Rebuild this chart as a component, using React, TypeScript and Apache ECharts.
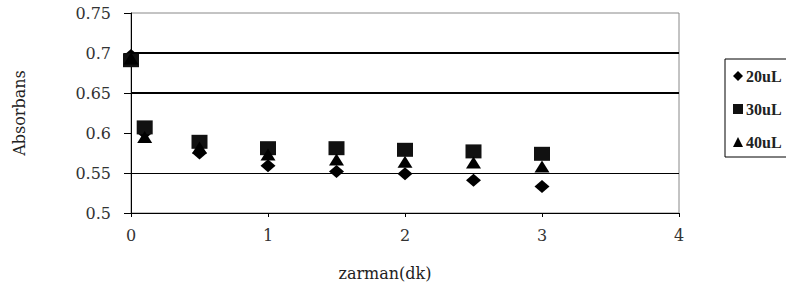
import React, { useEffect, useRef } from "react";
import * as echarts from "echarts";

const times = [0, 0.1, 0.5, 1, 1.5, 2, 2.5, 3];
const s20 = [0.697, 0.6, 0.575, 0.559, 0.552, 0.549, 0.541, 0.533];
const s30 = [0.691, 0.607, 0.589, 0.581, 0.581, 0.579, 0.577, 0.574];
const s40 = [0.693, 0.595, 0.582, 0.573, 0.567, 0.564, 0.563, 0.558];
const seriesNames = ["20uL", "30uL", "40uL"];
const gridValues = [0.7, 0.65, 0.55];
const gridWidths = [2, 2, 1];

const pts = (vals: number[]) => times.map((t, i) => [t, vals[i]]);

export default function App() {
  const ref = useRef<HTMLDivElement>(null);
  useEffect(() => {
    document.body.style.margin = "0";
    document.body.style.overflow = "hidden";
    const chart = echarts.init(ref.current!, null, { renderer: "svg" });
    const font = "DejaVu Serif";
    chart.setOption({
      animation: false,
      backgroundColor: "#fff",
      textStyle: { fontFamily: font },
      grid: {
        left: 131,
        top: 13,
        width: 548,
        height: 200,
        show: true,
        borderColor: "#888",
        borderWidth: 1,
      },
      legend: {
        data: seriesNames.map((n, i) => ({ name: n, icon: ["diamond", "rect", "triangle"][i] })),
        orient: "vertical",
        left: 725,
        top: 59,
        padding: [9, 10, 7, 8],
        itemGap: 17,
        itemWidth: 10,
        itemHeight: 10,
        borderColor: "#000",
        borderWidth: 1,
        textStyle: { fontFamily: "Liberation Serif", fontSize: 16, fontWeight: "bold", color: "#222", padding: [0, 0, 0, -2] },
      },
      xAxis: {
        type: "value",
        min: 0,
        max: 4,
        interval: 1,
        name: "zarman(dk)",
        nameLocation: "middle",
        nameGap: 52,
        nameTextStyle: { fontFamily: font, fontSize: 16, color: "#222", padding: [0, 40, 0, 0] },
        axisLine: { show: true, onZero: false, lineStyle: { color: "#000", width: 1 } },
        axisTick: { show: true, length: 4, lineStyle: { color: "#000" } },
        axisLabel: { fontFamily: font, fontSize: 16, color: "#333", margin: 14 },
        splitLine: { show: false },
      },
      yAxis: {
        type: "value",
        min: 0.5,
        max: 0.75,
        interval: 0.05,
        name: "Absorbans",
        nameLocation: "middle",
        nameGap: 104,
        nameRotate: 90,
        nameTextStyle: { fontFamily: font, fontSize: 16, color: "#222" },
        axisLine: { show: true, onZero: false, lineStyle: { color: "#000", width: 1 } },
        axisTick: { show: true, length: 7, lineStyle: { color: "#000" } },
        axisLabel: { fontFamily: font, fontSize: 16, color: "#333", margin: 20 },
        splitLine: { show: false },
      },
      series: [
        {
          name: "grid",
          type: "scatter",
          data: [],
          z: 1,
          markLine: {
            silent: true,
            symbol: "none",
            label: { show: false },
            data: gridValues.map((v, i) => ({
              yAxis: v,
              lineStyle: { color: "#000", width: gridWidths[i], type: "solid" },
            })),
          },
        },
        {
          name: seriesNames[0],
          type: "scatter",
          symbol: "diamond",
          symbolSize: [15, 13],
          itemStyle: { color: "#000", opacity: 1 },
          data: pts(s20),
          z: 3,
        },
        {
          name: seriesNames[1],
          type: "scatter",
          symbol: "rect",
          symbolSize: [16, 14],
          itemStyle: { color: "#111", opacity: 1 },
          data: pts(s30),
          z: 3,
        },
        {
          name: seriesNames[2],
          type: "scatter",
          symbol: "triangle",
          symbolSize: [15, 12],
          itemStyle: { color: "#000", opacity: 1 },
          data: pts(s40),
          z: 3,
        },
      ],
    });
    return () => chart.dispose();
  }, []);
  return (
    <div
      ref={ref}
      style={{ position: "fixed", left: 0, top: 0, width: 840, height: 295 }}
    />
  );
}
